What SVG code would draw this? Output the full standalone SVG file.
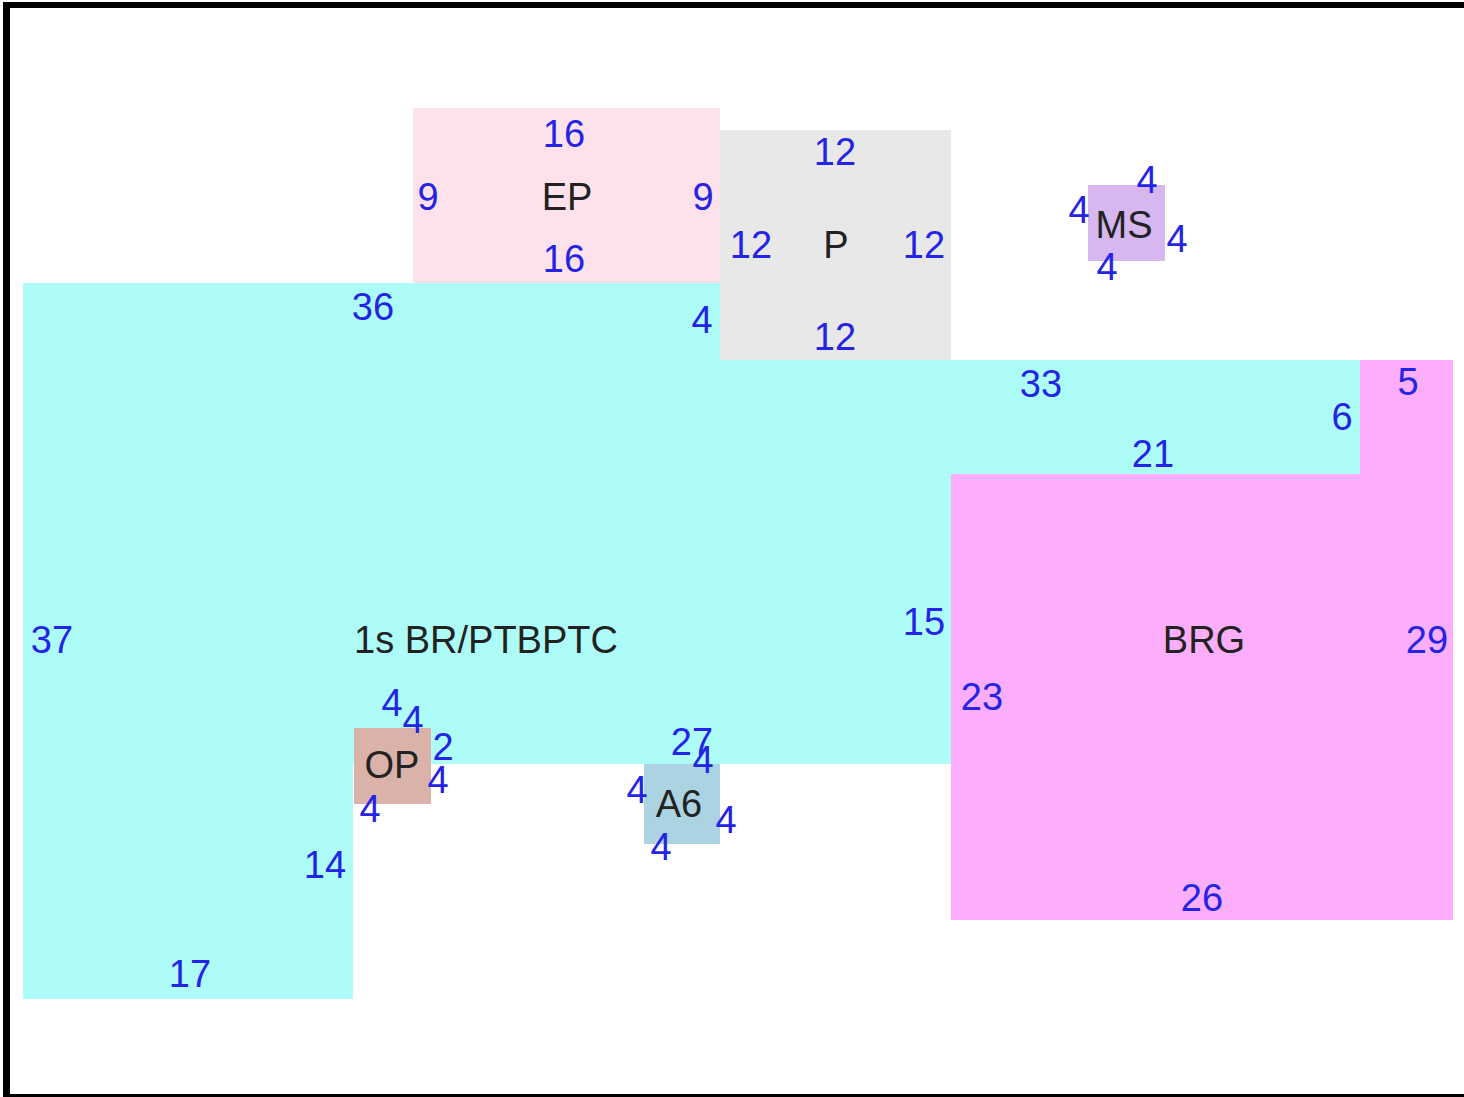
<svg xmlns="http://www.w3.org/2000/svg" width="1464" height="1097" viewBox="0 0 1464 1097">
<style>
text{font-family:"Liberation Sans",Arial,sans-serif;font-size:38px;text-anchor:middle}
.n{fill:#2424e6}
.l{fill:#222222}
</style>
<rect x="0" y="0" width="1464" height="1097" fill="#ffffff"/>
<g id="frame" fill="#000000">
<rect x="3" y="2" width="1461" height="6"/>
<rect x="3" y="2" width="7" height="1095"/>
<rect x="3" y="1094" width="1461" height="3"/>
</g>
<g id="EP">
<rect x="413" y="108" width="307" height="175" fill="#fde2ec"/>
<text class="n" x="564" y="147">16</text>
<text class="n" x="428" y="210">9</text>
<text class="l" x="567" y="210">EP</text>
<text class="n" x="703" y="210">9</text>
<text class="n" x="564" y="272">16</text>
</g>
<g id="P">
<rect x="720" y="130" width="231" height="230" fill="#e8e8e8"/>
<text class="n" x="835" y="165">12</text>
<text class="n" x="751" y="258">12</text>
<text class="l" x="836" y="258">P</text>
<text class="n" x="924" y="258">12</text>
<text class="n" x="835" y="350">12</text>
</g>
<g id="BR">
<polygon points="23,283 720,283 720,360 1360,360 1360,474 951,474 951,764 353,764 353,999 23,999" fill="#aefcf8"/>
<text class="n" x="373" y="320">36</text>
<text class="n" x="702" y="333">4</text>
<text class="n" x="1041" y="397">33</text>
<text class="n" x="1342" y="430">6</text>
<text class="n" x="1153" y="467">21</text>
<text class="n" x="52" y="653">37</text>
<text class="l" x="486" y="653">1s BR/PTBPTC</text>
<text class="n" x="924" y="635">15</text>
<text class="n" x="325" y="878">14</text>
<text class="n" x="190" y="987">17</text>
</g>
<g id="BRG">
<polygon points="1360,360 1453,360 1453,920 951,920 951,474 1360,474" fill="#fdaefb"/>
<text class="n" x="1408" y="395">5</text>
<text class="l" x="1204" y="653">BRG</text>
<text class="n" x="1427" y="653">29</text>
<text class="n" x="982" y="710">23</text>
<text class="n" x="1202" y="911">26</text>
</g>
<g id="MS">
<rect x="1088" y="185" width="77" height="76" fill="#d7b7ef"/>
<text class="n" x="1147" y="193">4</text>
<text class="n" x="1079" y="223">4</text>
<text class="l" x="1124" y="238">MS</text>
<text class="n" x="1177" y="252">4</text>
<text class="n" x="1107" y="280">4</text>
</g>
<g id="OP">
<rect x="354" y="728" width="77" height="76" fill="#dab2a9"/>
<text class="n" x="392" y="716">4</text>
<text class="n" x="413" y="733">4</text>
<text class="n" x="443" y="760">2</text>
<text class="l" x="392" y="778">OP</text>
<text class="n" x="438" y="793">4</text>
<text class="n" x="370" y="822">4</text>
</g>
<g id="A6">
<rect x="644" y="764" width="76" height="80" fill="#abd3e1"/>
<text class="n" x="692" y="755">27</text>
<text class="n" x="703" y="773">4</text>
<text class="n" x="637" y="803">4</text>
<text class="l" x="679" y="817">A6</text>
<text class="n" x="726" y="833">4</text>
<text class="n" x="661" y="860">4</text>
</g>
<g id="connectors"/>
</svg>
